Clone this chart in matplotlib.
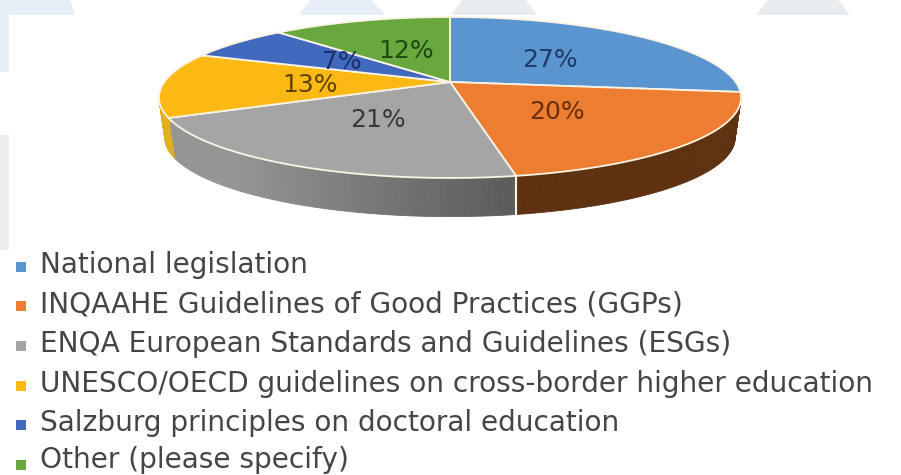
import numpy as np
import matplotlib
matplotlib.use('Agg')
import matplotlib.pyplot as plt
from matplotlib.collections import PolyCollection

categories = ['National legislation',
              'INQAAHE Guidelines of Good Practices (GGPs)',
              'ENQA European Standards and Guidelines (ESGs)',
              'UNESCO/OECD guidelines on cross-border higher education',
              'Salzburg principles on doctoral education',
              'Other (please specify)']
values = [27, 20, 21, 13, 7, 12]
colors = ['#5b95cf', '#ed7d31', '#a5a5a5', '#fdb913', '#4169bd', '#68a83f']
side_dark = ['#3a6690', '#5e3210', '#5c5c5c', '#a07a00', '#2c4a80', '#47702c']
side_light = ['#3a6690', '#6d3c14', '#959595', '#e0b020', '#2c4a80', '#47702c']
label_colors = ['#1c3c66', '#6a2e08', '#38383c', '#5f4300', '#1c2f66', '#1d4a10']

# pie placement in pixels, tilted disc
cx, cy = 450, 82
a, b, c = 285.6, 77.5, 0.1925
depth = 41
inset = 0.98


def project(theta, r=1.0):
    x = r * np.sin(theta)
    y = r * np.cos(theta)
    d = 1 + c * y
    return cx + a * x / d, cy - b * y / d


fig = plt.figure(figsize=(9.01, 4.75), dpi=100)
ax = fig.add_axes([0, 0, 1, 1])
ax.set_xlim(0, 901)
ax.set_ylim(475, 0)
ax.axis('off')

# faint watermark behind the chart
ax.fill([0, 70, 75, 0], [0, 0, 15, 15], color='#e6eff8', lw=0)
ax.fill([310, 372, 385, 299], [0, 0, 15, 15], color='#e6eff8', lw=0)
ax.fill([462, 526, 537, 451], [0, 0, 15, 15], color='#e9ecef', lw=0)
ax.fill([768, 838, 850, 756], [0, 0, 15, 15], color='#e9ecef', lw=0)
ax.fill([0, 9, 9, 0], [15, 15, 72, 72], color='#e6eff8', lw=0)
ax.fill([0, 9, 9, 0], [135, 135, 250, 250], color='#eeeeee', lw=0)

edges = np.concatenate([[0], np.cumsum(values)]) / sum(values) * 2 * np.pi

# side wall with a shaded strip per step
for i in range(len(values)):
    t = np.linspace(edges[i], edges[i + 1], 80)
    quads = []
    cols = []
    dk = np.array(matplotlib.colors.to_rgb(side_dark[i]))
    lt = np.array(matplotlib.colors.to_rgb(side_light[i]))
    for t0, t1 in zip(t[:-1], t[1:]):
        if np.cos((t0 + t1) / 2) > 0.25:
            continue
        x0, y0 = project(t0)
        x1, y1 = project(t1)
        x2, y2 = project(t0, inset)
        x3, y3 = project(t1, inset)
        quads.append([(x0, y0), (x1, y1), (x3, y3 + depth), (x2, y2 + depth)])
        f = np.clip((x0 - 510) / (235 - 510), 0, 1)
        cols.append(dk + (lt - dk) * f)
    if quads:
        ax.add_collection(PolyCollection(quads, facecolors=cols, edgecolors=cols, lw=0.6))

# white seam between the wall segments
sx, sy = project(edges[2])
ax.plot([sx, sx], [sy, sy + depth - 2], color='#fff4ea', lw=1.5)

# top of the pie
for i in range(len(values)):
    t = np.linspace(edges[i], edges[i + 1], 120)
    x, y = project(t)
    ax.fill(np.r_[cx, x], np.r_[cy, y], facecolor=colors[i], edgecolor='#fdf3e4', lw=1.3,
            joinstyle='round')

# data labels
label_x = [550, 557, 378, 310, 342, 406]
label_y = [60, 112, 120, 85, 62, 51]
for i in range(len(values)):
    ax.text(label_x[i], label_y[i], f'{values[i]}%', ha='center', va='center',
            fontsize=18, color=label_colors[i], family='DejaVu Sans')

# legend, last row sits tight against the bottom edge
legend_y = [267, 306, 346, 386, 425, 465]
legend_base = [273, 312, 352, 392, 431, 467.5]
for i in range(len(categories)):
    ax.scatter(20.5, legend_y[i], marker='s', s=62, color=colors[i], lw=0)
    ax.text(40, legend_base[i], categories[i], ha='left', va='baseline', fontsize=20.2,
            color='#454545', family='DejaVu Sans')

fig.savefig('out.png', dpi=100)
